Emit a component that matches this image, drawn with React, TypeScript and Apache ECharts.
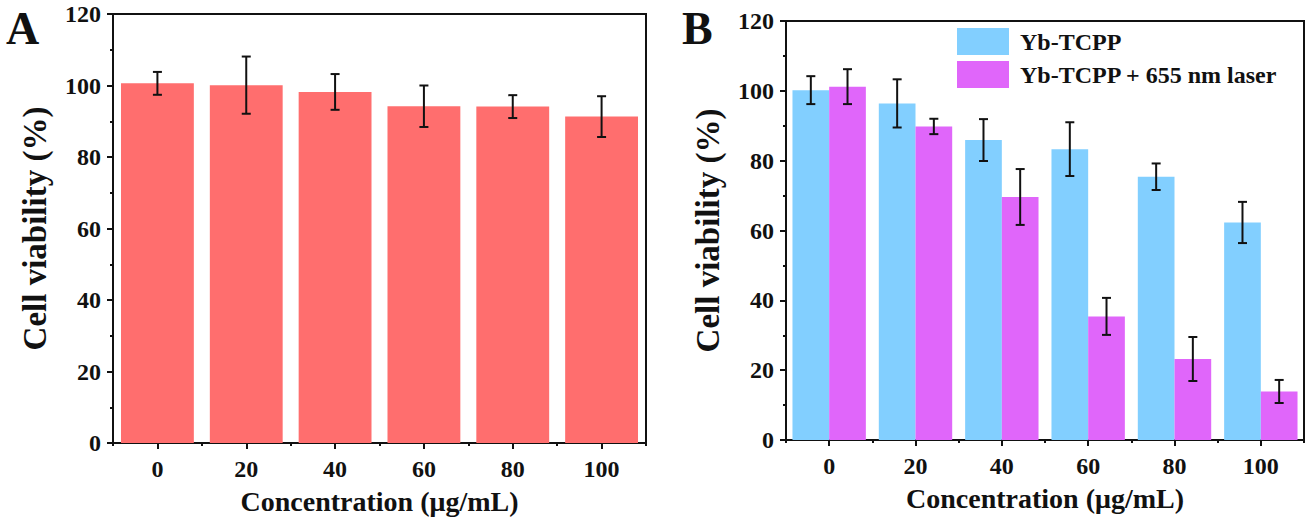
import React, { useEffect, useRef } from "react";
import * as echarts from "echarts";

const categories = ["0", "20", "40", "60", "80", "100"];
const viabilityA = [100.6, 100.1, 98.2, 94.2, 94.1, 91.3];
const errorA = [3.2, 8.0, 5.0, 5.8, 3.2, 5.7];
const ybTcpp = [100.2, 96.4, 85.9, 83.3, 75.4, 62.3];
const ybTcppErr = [4.0, 6.9, 6.0, 7.7, 3.8, 5.9];
const ybLaser = [101.2, 89.8, 69.6, 35.4, 23.2, 13.9];
const ybLaserErr = [5.0, 2.2, 8.0, 5.3, 6.3, 3.3];
const seriesNames = ["Yb-TCPP", "Yb-TCPP + 655 nm laser"];

const FONT = '"Liberation Serif", "Times New Roman", serif';
const INK = "#111111";
const RED = "#FF6E6E";
const BLUE = "#82CFFF";
const MAGENTA = "#E066FA";

const GAP_B = 0.15;
const BAR_W_B = (1 - GAP_B) / 2;

function errRender(offsetFrac: number) {
  return (params: any, api: any) => {
    const x = api.value(0);
    const v = api.value(1);
    const e = api.value(2);
    const hi = api.coord([x, v + e]);
    const lo = api.coord([x, v - e]);
    const band = api.size([1, 0])[0];
    const cx = hi[0] + offsetFrac * band;
    const cap = 4.5;
    const style = { stroke: INK, lineWidth: 2 };
    return {
      type: "group",
      children: [
        { type: "line", shape: { x1: cx, y1: hi[1], x2: cx, y2: lo[1] }, style },
        { type: "line", shape: { x1: cx - cap, y1: hi[1], x2: cx + cap, y2: hi[1] }, style },
        { type: "line", shape: { x1: cx - cap, y1: lo[1], x2: cx + cap, y2: lo[1] }, style },
      ],
    };
  };
}

const toErrData = (vals: number[], errs: number[]) => vals.map((v, i) => [i, v, errs[i]]);

function yAxisCfg(gridIndex: number) {
  return {
    type: "value",
    gridIndex,
    min: 0,
    max: 120,
    interval: 20,
    name: "Cell viability (%)",
    nameLocation: "middle",
    nameGap: 62,
    nameTextStyle: { fontSize: 33, fontWeight: "bold", color: INK, fontFamily: FONT },
    axisLine: { show: true, lineStyle: { color: INK, width: 2 } },
    axisTick: { show: true, length: 6, lineStyle: { color: INK, width: 2 } },
    minorTick: { show: true, splitNumber: 2, length: 3, lineStyle: { color: INK, width: 2 } },
    splitLine: { show: false },
    minorSplitLine: { show: false },
    axisLabel: { fontSize: 24, fontWeight: "bold", color: INK, fontFamily: FONT, margin: 12 },
  };
}

function xAxisMain(gridIndex: number) {
  return {
    type: "category",
    gridIndex,
    data: categories,
    name: "Concentration (μg/mL)",
    nameLocation: "middle",
    nameGap: 44,
    nameTextStyle: { fontSize: 28, fontWeight: "bold", color: INK, fontFamily: FONT, verticalAlign: "top" },
    axisLine: { show: true, lineStyle: { color: INK, width: 2 } },
    axisTick: { show: true, alignWithLabel: true, length: 6, lineStyle: { color: INK, width: 2 } },
    axisLabel: { fontSize: 24, fontWeight: "bold", color: INK, fontFamily: FONT, margin: 14 },
    splitLine: { show: false },
  };
}

function xAxisMinor(gridIndex: number) {
  return {
    type: "category",
    gridIndex,
    data: categories,
    position: "bottom",
    axisLine: { show: false },
    axisTick: { show: true, alignWithLabel: false, length: 3, lineStyle: { color: INK, width: 2 } },
    axisLabel: { show: false },
    splitLine: { show: false },
  };
}

export default function App() {
  const ref = useRef<HTMLDivElement>(null);
  useEffect(() => {
    if (!ref.current) return;
    const chart = echarts.init(ref.current, null, { renderer: "svg" });
    const option: any = {
      animation: false,
      backgroundColor: "#ffffff",
      textStyle: { fontFamily: FONT },
      grid: [
        { left: 113, right: 665, top: 14, bottom: 87, show: true, borderColor: INK, borderWidth: 2, backgroundColor: "transparent" },
        { left: 786, right: 7, top: 21, bottom: 90, show: true, borderColor: INK, borderWidth: 2, backgroundColor: "transparent" },
      ],
      xAxis: [xAxisMain(0), xAxisMinor(0), xAxisMain(1), xAxisMinor(1)],
      yAxis: [yAxisCfg(0), yAxisCfg(1)],
      legend: {
        data: seriesNames,
        orient: "vertical",
        left: 957,
        top: 28,
        padding: 0,
        itemWidth: 52,
        itemHeight: 27,
        itemGap: 6,
        icon: "rect",
        textStyle: { fontSize: 24, fontWeight: "bold", color: INK, fontFamily: FONT, padding: [0, 0, 0, 6] },
      },
      graphic: [
        { type: "text", x: 6, y: 5, style: { text: "A", font: `bold 46px ${FONT}`, fill: INK, textVerticalAlign: "top" } },
        { type: "text", x: 682, y: 5, style: { text: "B", font: `bold 46px ${FONT}`, fill: INK, textVerticalAlign: "top" } },
      ],
      series: [
        {
          name: "Control",
          type: "bar",
          xAxisIndex: 0,
          yAxisIndex: 0,
          data: viabilityA,
          barWidth: "82%",
          itemStyle: { color: RED },
        },
        {
          type: "custom",
          xAxisIndex: 0,
          yAxisIndex: 0,
          data: toErrData(viabilityA, errorA),
          renderItem: errRender(0),
          z: 10,
        },
        {
          name: seriesNames[0],
          type: "bar",
          xAxisIndex: 2,
          yAxisIndex: 1,
          data: ybTcpp,
          barGap: "0%",
          barCategoryGap: `${GAP_B * 100}%`,
          itemStyle: { color: BLUE },
        },
        {
          name: seriesNames[1],
          type: "bar",
          xAxisIndex: 2,
          yAxisIndex: 1,
          data: ybLaser,
          barGap: "0%",
          barCategoryGap: `${GAP_B * 100}%`,
          itemStyle: { color: MAGENTA },
        },
        {
          type: "custom",
          xAxisIndex: 2,
          yAxisIndex: 1,
          data: toErrData(ybTcpp, ybTcppErr),
          renderItem: errRender(-BAR_W_B / 2),
          z: 10,
        },
        {
          type: "custom",
          xAxisIndex: 2,
          yAxisIndex: 1,
          data: toErrData(ybLaser, ybLaserErr),
          renderItem: errRender(BAR_W_B / 2),
          z: 10,
        },
      ],
    };
    chart.setOption(option);
    return () => chart.dispose();
  }, []);
  return (
    <div
      ref={ref}
      style={{ position: "fixed", left: 0, top: 0, width: 1311, height: 530, background: "#fff" }}
    />
  );
}
